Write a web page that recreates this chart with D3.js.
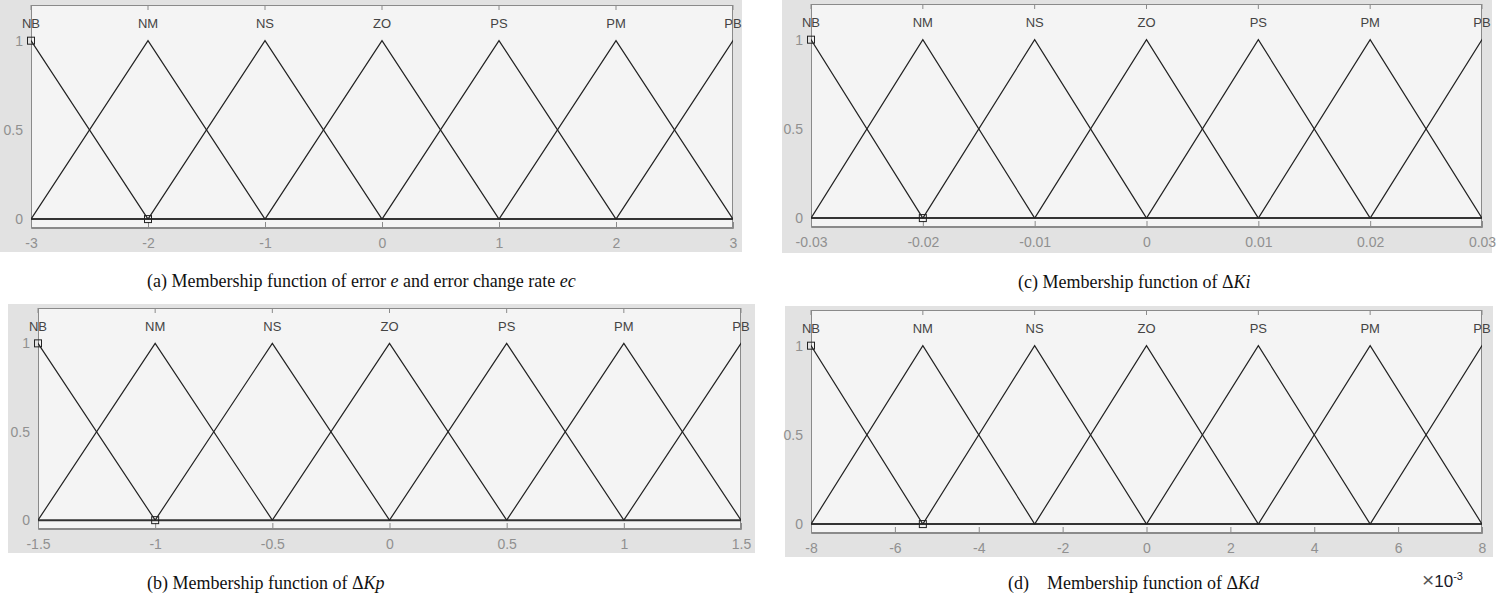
<!DOCTYPE html>
<html>
<head>
<meta charset="utf-8">
<script src="https://cdn.jsdelivr.net/npm/d3@7"></script>
<style>
  body { margin: 0; background: #fff; }
  svg { display: block; }
</style>
</head>
<body>
<div id="chart"></div>
<script>
// membership function names, shared by all four panels
var mfNames = ["NB", "NM", "NS", "ZO", "PS", "PM", "PB"];

// centers of the triangles for each variable
var centersE  = [-3, -2, -1, 0, 1, 2, 3];
var centersKp = [-1.5, -1, -0.5, 0, 0.5, 1, 1.5];
var centersKi = [-0.03, -0.02, -0.01, 0, 0.01, 0.02, 0.03];
var centersKd = [-8, -5.333, -2.667, 0, 2.667, 5.333, 8];

// x tick values
var ticksE  = [-3, -2, -1, 0, 1, 2, 3];
var ticksKp = [-1.5, -1, -0.5, 0, 0.5, 1, 1.5];
var ticksKi = [-0.03, -0.02, -0.01, 0, 0.01, 0.02, 0.03];
var ticksKd = [-8, -6, -4, -2, 0, 2, 4, 6, 8];

var yTicks = [0, 0.5, 1];

var width = 1501, height = 596;

var svg = d3.select("#chart").append("svg")
    .attr("width", width)
    .attr("height", height);

var panels = [
    { id: "a", centers: centersE, ticks: ticksE,
      bg: [0, 0, 742, 252], plot: [31, 5, 733, 228], cap: [147, 287] },
    { id: "c", centers: centersKi, ticks: ticksKi,
      bg: [782, 0, 1492, 253], plot: [811, 4, 1482, 227], cap: [1018, 288] },
    { id: "b", centers: centersKp, ticks: ticksKp,
      bg: [8, 304, 755, 553], plot: [38, 308, 741, 529], cap: [147, 589] },
    { id: "d", centers: centersKd, ticks: ticksKd,
      bg: [785, 306, 1493, 557], plot: [811, 310, 1482, 533], cap: [1008, 589] }
];

var fmt = function(v) { return String(+v.toFixed(4)); };
var sans = "Liberation Sans, Arial, sans-serif";

panels.forEach(function(p) {
    var x0 = p.plot[0], y0 = p.plot[1], x1 = p.plot[2], y1 = p.plot[3];
    var c = p.centers;
    var half = c[1] - c[0];

    svg.append("rect")
        .attr("x", p.bg[0]).attr("y", p.bg[1])
        .attr("width", p.bg[2] - p.bg[0]).attr("height", p.bg[3] - p.bg[1])
        .attr("fill", "#e2e2e2");

    var x = d3.scaleLinear().domain([c[0], c[c.length - 1]]).range([x0, x1]);
    var y = d3.scaleLinear().domain([-0.05, 1.2]).range([y1, y0]);

    var g = svg.append("g");

    g.append("rect")
        .attr("x", x0).attr("y", y0)
        .attr("width", x1 - x0).attr("height", y1 - y0)
        .attr("fill", "#f4f4f4");

    var clipId = "clip-" + p.id;
    svg.append("clipPath").attr("id", clipId)
        .append("rect")
        .attr("x", x0).attr("y", y0)
        .attr("width", x1 - x0).attr("height", y1 - y0);

    // bottom axis
    var xAxis = d3.axisBottom(x).tickValues(p.ticks).tickSize(-6).tickPadding(10)
        .tickFormat(fmt);
    var ax = g.append("g").attr("transform", "translate(0," + y1 + ")").call(xAxis);
    ax.select(".domain").attr("stroke", "#8a8a8a");
    ax.selectAll(".tick line").attr("stroke", "#8a8a8a");
    ax.selectAll("text")
        .attr("fill", "#909090")
        .style("font-family", sans)
        .style("font-size", "14px");

    // y tick labels
    var yAxis = d3.axisLeft(y).tickValues(yTicks).tickSize(0).tickPadding(8)
        .tickFormat(d3.format("~g"));
    var ay = g.append("g").attr("transform", "translate(" + x0 + ",0)").call(yAxis);
    ay.select(".domain").remove();
    ay.selectAll("text")
        .attr("fill", "#909090")
        .style("font-family", sans)
        .style("font-size", "14px");

    // top ticks at MF centers
    g.selectAll(".topTick").data(c).enter().append("line")
        .attr("x1", function(d) { return x(d); })
        .attr("x2", function(d) { return x(d); })
        .attr("y1", y0).attr("y2", y0 + 5)
        .attr("stroke", "#8a8a8a");

    // frame
    g.append("rect")
        .attr("x", x0 + 0.5).attr("y", y0 + 0.5)
        .attr("width", x1 - x0 - 1).attr("height", y1 - y0 - 1)
        .attr("fill", "none").attr("stroke", "#8a8a8a");

    // zero line
    g.append("line")
        .attr("x1", x0).attr("x2", x1)
        .attr("y1", y(0)).attr("y2", y(0))
        .attr("stroke", "#333").attr("stroke-width", 2);

    // triangles
    var line = d3.line()
        .x(function(d) { return x(d[0]); })
        .y(function(d) { return y(d[1]); });
    g.append("g").attr("clip-path", "url(#" + clipId + ")")
        .selectAll("path").data(c).enter().append("path")
        .attr("d", function(d) { return line([[d - half, 0], [d, 1], [d + half, 0]]); })
        .attr("fill", "none")
        .attr("stroke", "#222")
        .attr("stroke-width", 1.2);

    // mf names
    g.selectAll(".mfName").data(c).enter().append("text")
        .attr("x", function(d) { return x(d); })
        .attr("y", y0 + 23)
        .attr("text-anchor", "middle")
        .attr("fill", "#444")
        .style("font-family", sans)
        .style("font-size", "13px")
        .text(function(d, i) { return mfNames[i]; });

    // markers of the selected MF (NB)
    var markers = [[c[0], 1], [c[1], 0]];
    g.selectAll(".marker").data(markers).enter().append("rect")
        .attr("x", function(d) { return x(d[0]) - 3.5; })
        .attr("y", function(d) { return y(d[1]) - 3.5; })
        .attr("width", 7).attr("height", 7)
        .attr("fill", "none")
        .attr("stroke", "#222")
        .attr("stroke-width", 1);
});

// captions
var capFont = "Liberation Serif, Times New Roman, serif";
function caption(px, py, parts) {
    var t = svg.append("text")
        .attr("x", px).attr("y", py)
        .attr("fill", "#111")
        .style("font-family", capFont)
        .style("font-size", "18px")
        .style("white-space", "pre");
    parts.forEach(function(s) {
        t.append("tspan").text(s[0]).style("font-style", s[1] ? "italic" : "normal");
    });
}
caption(panels[0].cap[0], panels[0].cap[1],
    [["(a) Membership function of error "], ["e", 1], [" and error change rate "], ["ec", 1]]);
caption(panels[1].cap[0], panels[1].cap[1],
    [["(c) Membership function of \u0394"], ["Ki", 1]]);
caption(panels[2].cap[0], panels[2].cap[1],
    [["(b) Membership function of \u0394"], ["Kp", 1]]);
caption(panels[3].cap[0], panels[3].cap[1],
    [["(d)    Membership function of \u0394"], ["Kd", 1]]);

// exponent label
var ex = svg.append("text")
    .attr("x", 1422).attr("y", 587)
    .attr("fill", "#1a1a2a")
    .style("font-family", sans)
    .style("font-size", "17px");
ex.append("tspan").text("\u00d7").attr("fill", "#555").style("font-size", "21px");
ex.append("tspan").text("10");
ex.append("tspan").text("-3").attr("dy", -7).style("font-size", "11px");
</script>
</body>
</html>
